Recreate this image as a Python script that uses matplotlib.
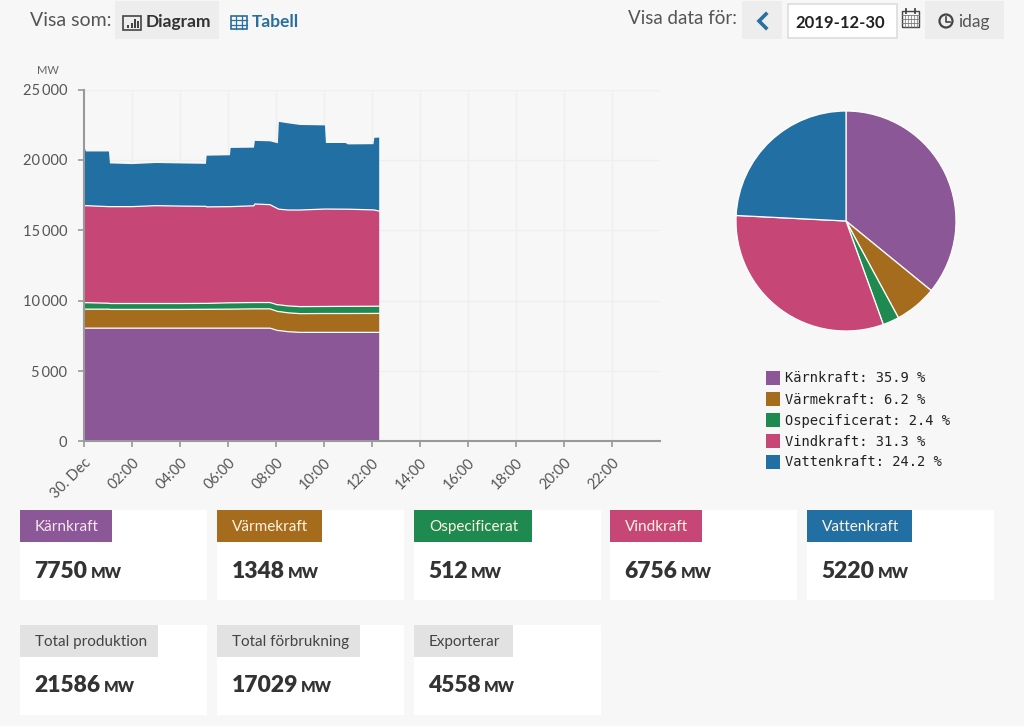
import matplotlib
matplotlib.use('Agg')
import matplotlib.pyplot as plt
import numpy as np
from matplotlib.patches import Rectangle, Circle

plt.rcParams['font.family'] = ['Lato', 'DejaVu Sans']

# Production per type (MW)
hours = [0, 0.08, 1.04, 1.08, 2, 3, 4, 5.08, 5.11, 6.08, 6.11, 7.08, 7.12, 7.75, 8.08, 8.12, 8.5, 9, 10.04, 10.08, 10.9, 11, 12.06, 12.1, 12.3]
karnkraft = [8050, 8050, 8050, 8050, 8050, 8050, 8050, 8050, 8050, 8050, 8050, 8050, 8050, 8050, 7880, 7880, 7800, 7750, 7750, 7750, 7750, 7750, 7750, 7750, 7750]
varmekraft = [1350, 1350, 1350, 1330, 1330, 1330, 1330, 1340, 1340, 1350, 1350, 1370, 1370, 1370, 1350, 1350, 1340, 1330, 1340, 1340, 1340, 1340, 1345, 1348, 1348]
ospecificerat = [460, 460, 420, 420, 420, 420, 420, 420, 420, 450, 450, 450, 450, 450, 470, 480, 490, 500, 500, 500, 510, 510, 512, 512, 512]
vindkraft = [6890, 6890, 6860, 6880, 6880, 6950, 6920, 6890, 6850, 6830, 6830, 6870, 7000, 6950, 6830, 6790, 6810, 6860, 6920, 6920, 6900, 6900, 6840, 6830, 6756]
vattenkraft = [4250, 3850, 3920, 3070, 3020, 3030, 3030, 3020, 3640, 3650, 4170, 4130, 4480, 4500, 4650, 6200, 6160, 6040, 5940, 4690, 4700, 4600, 4670, 5130, 5220]

pie_labels = ['Kärnkraft', 'Värmekraft', 'Ospecificerat', 'Vindkraft', 'Vattenkraft']
pie_values = [35.9, 6.2, 2.4, 31.3, 24.2]
card_values = [7750, 1348, 512, 6756, 5220]
total_labels = ['Total produktion', 'Total förbrukning', 'Exporterar']
total_values = [21586, 17029, 4558]

y_ticks = [0, 5000, 10000, 15000, 20000, 25000]
y_labels = ['0', '5\u2009000', '10\u2009000', '15\u2009000', '20\u2009000', '25\u2009000']
x_ticks = [0, 2, 4, 6, 8, 10, 12, 14, 16, 18, 20, 22]
x_labels = ['30. Dec', '02:00', '04:00', '06:00', '08:00', '10:00', '12:00', '14:00', '16:00', '18:00', '20:00', '22:00']

colors = ['#8B5797', '#A56C1D', '#1E8A4F', '#C64676', '#2270A3']
BG = '#F7F7F7'
W, H = 1024, 726

fig = plt.figure(figsize=(W / 100, H / 100), dpi=100, facecolor=BG)

# Page layer, in pixels with y going down
page = fig.add_axes([0, 0, 1, 1])
page.set_xlim(0, W)
page.set_ylim(H, 0)
page.axis('off')


def box(x0, y0, x1, y1, color, **kw):
    page.add_patch(Rectangle((x0, y0), x1 - x0, y1 - y0, facecolor=color, edgecolor='none', **kw))


# Header
page.text(30, 20, 'Visa som:', fontsize=14, color='#555555', va='center')
box(115, 1, 219, 39, '#EDEDED')
page.text(146, 22, 'Diagram', fontsize=12.5, fontweight='bold', color='#333333', va='center')
page.add_patch(Rectangle((123, 16), 18, 14, facecolor='none', edgecolor='#444444', lw=1.2))
for bx, bh in zip([127, 131, 134, 137], [3, 5, 9, 7]):
    box(bx, 28 - bh, bx + 2, 28, '#444444')
page.add_patch(Rectangle((231, 16), 16, 13, facecolor='none', edgecolor='#2A6F9E', lw=1.2))
for gx in [236, 242]:
    page.plot([gx, gx], [16, 29], color='#2A6F9E', lw=0.9)
for gy in [20, 24.5]:
    page.plot([231, 247], [gy, gy], color='#2A6F9E', lw=0.9)
page.text(252, 22, 'Tabell', fontsize=12.5, fontweight='bold', color='#2A6F9E', va='center')

page.text(628, 19, 'Visa data för:', fontsize=13.5, color='#555555', va='center')
box(742, 1, 782, 39, '#EDEDED')
page.plot([766, 759, 766], [14, 21, 28], color='#2A6F9E', lw=2.6, solid_joinstyle='miter')
page.add_patch(Rectangle((788, 4), 109, 34, facecolor='white', edgecolor='#DDDDDD', lw=1.2))
page.text(795, 23, '2019-12-30', fontsize=12, fontweight='bold', color='#222222', va='center')
page.add_patch(Rectangle((902, 11), 17, 16, facecolor='none', edgecolor='#444444', lw=1))
for cx in [905, 908, 911, 914, 917]:
    page.plot([cx, cx], [15, 27], color='#777777', lw=0.5)
for cy in [15, 19, 23]:
    page.plot([902, 919], [cy, cy], color='#777777', lw=0.6)
page.plot([906, 906], [9, 13], color='#444444', lw=1.3)
page.plot([915, 915], [9, 13], color='#444444', lw=1.3)
box(925, 1, 1004, 39, '#EDEDED')
page.add_patch(Circle((946, 21), 6.5, facecolor='none', edgecolor='#444444', lw=1.6))
page.plot([946, 946, 950], [17, 22, 22], color='#444444', lw=1.2)
page.text(958, 22, 'idag', fontsize=12.5, color='#555555', va='center')

page.text(48, 70, 'MW', fontsize=8, color='#666666', va='center', ha='center')

# Cards
renderer = fig.canvas.get_renderer()


def card(x0, y0, tag_x1, label, value, tag_color, tag_text):
    box(x0, y0, x0 + 187, y0 + 90, 'white')
    box(x0, y0, tag_x1, y0 + 32, tag_color)
    page.text(x0 + 15, y0 + 17, label, fontsize=11, color=tag_text, va='center')
    num = page.text(x0 + 14.5, y0 + 61, str(value), fontsize=16.5, fontweight='heavy', color='#333333', va='center')
    x1 = page.transData.inverted().transform(num.get_window_extent(renderer))[1][0]
    page.text(x1 + 3, y0 + 63, 'MW', fontsize=11, fontweight='heavy', color='#333333', va='center')


card_x = [20, 217, 414, 610, 807]
tag_ends = [112, 322, 532, 702, 912]
for x0, x1, label, value, color in zip(card_x, tag_ends, pie_labels, card_values, colors):
    card(x0, 510, x1, label, value, color, '#F5E6F0' if color == colors[0] else '#FFF3E0')
for x0, x1, label, value in zip(card_x, [158, 360, 513], total_labels, total_values):
    card(x0, 625, x1, label, value, '#E2E2E2', '#444444')

# Area chart
ax = fig.add_axes([84 / W, 1 - 441.5 / H, 576 / W, 352 / H])
ax.patch.set_alpha(0)
series = [karnkraft, varmekraft, ospecificerat, vindkraft, vattenkraft]
ax.stackplot(hours, *series, colors=colors, linewidth=0, zorder=3)
# White lines between the layers
for top in np.cumsum(series, axis=0)[:-1]:
    ax.plot(hours, top, color='white', lw=0.9, zorder=4)
ax.set_xlim(0, 24)
ax.set_ylim(0, 25000)
ax.set_xticks(x_ticks)
ax.set_xticklabels(x_labels, rotation=45, ha='right', rotation_mode='anchor', fontsize=10.5, color='#555555')
ax.set_yticks(y_ticks)
ax.set_yticklabels(y_labels, fontsize=10.5, color='#555555')
ax.grid(True, color='#EFEFEF', linewidth=1, zorder=0)
ax.set_axisbelow(True)
ax.tick_params(axis='x', color='#999999', length=4, width=1.2, pad=6)
ax.tick_params(axis='y', color='#999999', length=4, width=1.2, pad=8)
ax.spines['top'].set_visible(False)
ax.spines['right'].set_visible(False)
for side in ['left', 'bottom']:
    ax.spines[side].set_color('#999999')
    ax.spines[side].set_linewidth(1.5)
    ax.spines[side].set_zorder(6)

# Pie chart
pie_ax = fig.add_axes([736 / W, 1 - 331 / H, 220 / W, 220 / H])
pie_ax.pie(pie_values, colors=colors, startangle=90, counterclock=False, radius=1,
           wedgeprops={'edgecolor': 'white', 'linewidth': 0.9})
pie_ax.set_xlim(-1, 1)
pie_ax.set_ylim(-1, 1)

# Pie legend
for i, (label, value, color) in enumerate(zip(pie_labels, pie_values, colors)):
    y = 378 + i * 21
    box(766, y - 7, 780, y + 7, color)
    page.text(785, y + 0.5, f'{label}: {value} %', family='DejaVu Sans Mono', fontsize=9.9, color='#222222', va='center')

fig.savefig('out.png', dpi=100, facecolor=BG)
